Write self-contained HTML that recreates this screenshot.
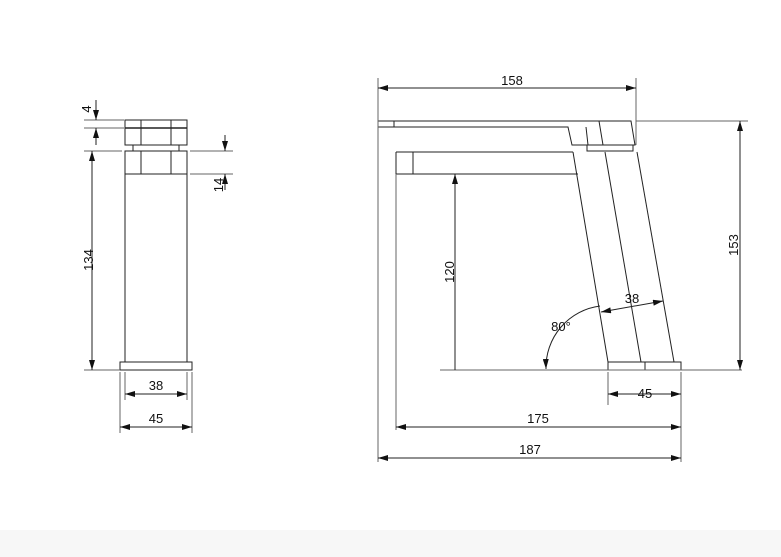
<!DOCTYPE html><html><head><style>body{margin:0;background:#fff}svg{display:block}text{font-family:"Liberation Sans",sans-serif;font-size:13px;fill:#111}</style></head><body>
<svg width="781" height="557" viewBox="0 0 781 557">
<defs><marker id="a" viewBox="0 0 10 6" refX="10" refY="3" markerWidth="10" markerHeight="6" orient="auto-start-reverse" markerUnits="userSpaceOnUse"><path d="M0,0L10,3L0,6z" fill="#111"/></marker></defs>
<rect x="0" y="530" width="781" height="27" fill="#f7f7f7"/>
<g stroke="#222" stroke-width="1" fill="none">
<!-- left view -->
<rect x="125" y="120" width="62" height="25"/><line x1="125" y1="128" x2="187" y2="128" stroke-width="1.6"/>
<line x1="141" y1="120" x2="141" y2="145"/><line x1="171" y1="120" x2="171" y2="145"/>
<rect x="133" y="145" width="46" height="6"/>
<rect x="125" y="151" width="62" height="211"/><line x1="125" y1="174" x2="187" y2="174"/>
<line x1="141" y1="151" x2="141" y2="174"/><line x1="171" y1="151" x2="171" y2="174"/>
<rect x="120" y="362" width="72" height="8"/>
<g stroke="#666"><line x1="84" y1="120" x2="124" y2="120"/><line x1="84" y1="128" x2="124" y2="128"/>
<line x1="84" y1="151" x2="122" y2="151"/><line x1="84" y1="370" x2="120" y2="370"/>
<line x1="190" y1="151" x2="233" y2="151"/><line x1="190" y1="174" x2="233" y2="174"/>
<line x1="125" y1="372" x2="125" y2="400"/><line x1="187" y1="372" x2="187" y2="400"/>
<line x1="120" y1="372" x2="120" y2="433"/><line x1="192" y1="372" x2="192" y2="433"/></g>
<line x1="96" y1="100" x2="96" y2="120" marker-end="url(#a)"/><line x1="96" y1="145" x2="96" y2="128" marker-end="url(#a)"/>
<line x1="92" y1="151" x2="92" y2="370" marker-start="url(#a)" marker-end="url(#a)"/>
<line x1="225" y1="135" x2="225" y2="151" marker-end="url(#a)"/><line x1="225" y1="190" x2="225" y2="174" marker-end="url(#a)"/>
<line x1="125" y1="394" x2="187" y2="394" marker-start="url(#a)" marker-end="url(#a)"/>
<line x1="120" y1="427" x2="192" y2="427" marker-start="url(#a)" marker-end="url(#a)"/>
<!-- right view -->
<path d="M378,121H631L635,145H603L599,121M378,127H568L572,145H588L586,127M394,121V127"/>
<rect x="587" y="145" width="46" height="6"/>
<path d="M396,152H573M396,174H578M396,152V174M413,152V174"/>
<line x1="573" y1="152" x2="608" y2="362"/><line x1="605" y1="152" x2="641" y2="362"/><line x1="637" y1="152" x2="674" y2="362"/>
<rect x="608" y="362" width="73" height="8"/><line x1="645" y1="362" x2="645" y2="370"/>
<g stroke="#666"><line x1="378" y1="78" x2="378" y2="462"/><line x1="396" y1="174" x2="396" y2="430"/>
<line x1="636" y1="78" x2="636" y2="145"/><line x1="636" y1="121" x2="748" y2="121"/>
<line x1="440" y1="370" x2="742" y2="370"/><line x1="608" y1="372" x2="608" y2="405"/><line x1="681" y1="372" x2="681" y2="462"/></g>
<line x1="378" y1="88" x2="636" y2="88" marker-start="url(#a)" marker-end="url(#a)"/>
<line x1="740" y1="121" x2="740" y2="370" marker-start="url(#a)" marker-end="url(#a)"/>
<line x1="455" y1="174" x2="455" y2="370" marker-start="url(#a)"/>
<line x1="608" y1="394" x2="681" y2="394" marker-start="url(#a)" marker-end="url(#a)"/>
<line x1="396" y1="427" x2="681" y2="427" marker-start="url(#a)" marker-end="url(#a)"/>
<line x1="378" y1="458" x2="681" y2="458" marker-start="url(#a)" marker-end="url(#a)"/>
<line x1="601" y1="312" x2="663" y2="301" marker-start="url(#a)" marker-end="url(#a)"/>
<path d="M546,369A62,62 0 0 1 600,306" marker-start="url(#a)"/>
</g>
<text x="85" y="103" transform="rotate(-90 91 103)" text-anchor="middle">4</text>
<text x="88" y="260" transform="rotate(-90 88 260)" text-anchor="middle" dy="5">134</text>
<text x="218" y="185" transform="rotate(-90 218 185)" text-anchor="middle" dy="5">14</text>
<text x="156" y="390" text-anchor="middle">38</text>
<text x="156" y="423" text-anchor="middle">45</text>
<text x="512" y="85" text-anchor="middle">158</text>
<text x="733" y="245" transform="rotate(-90 733 245)" text-anchor="middle" dy="5">153</text>
<text x="449" y="272" transform="rotate(-90 449 272)" text-anchor="middle" dy="5">120</text>
<text x="632" y="303" text-anchor="middle">38</text>
<text x="561" y="331" text-anchor="middle">80°</text>
<text x="645" y="398" text-anchor="middle">45</text>
<text x="538" y="423" text-anchor="middle">175</text>
<text x="530" y="454" text-anchor="middle">187</text>
</svg></body></html>
